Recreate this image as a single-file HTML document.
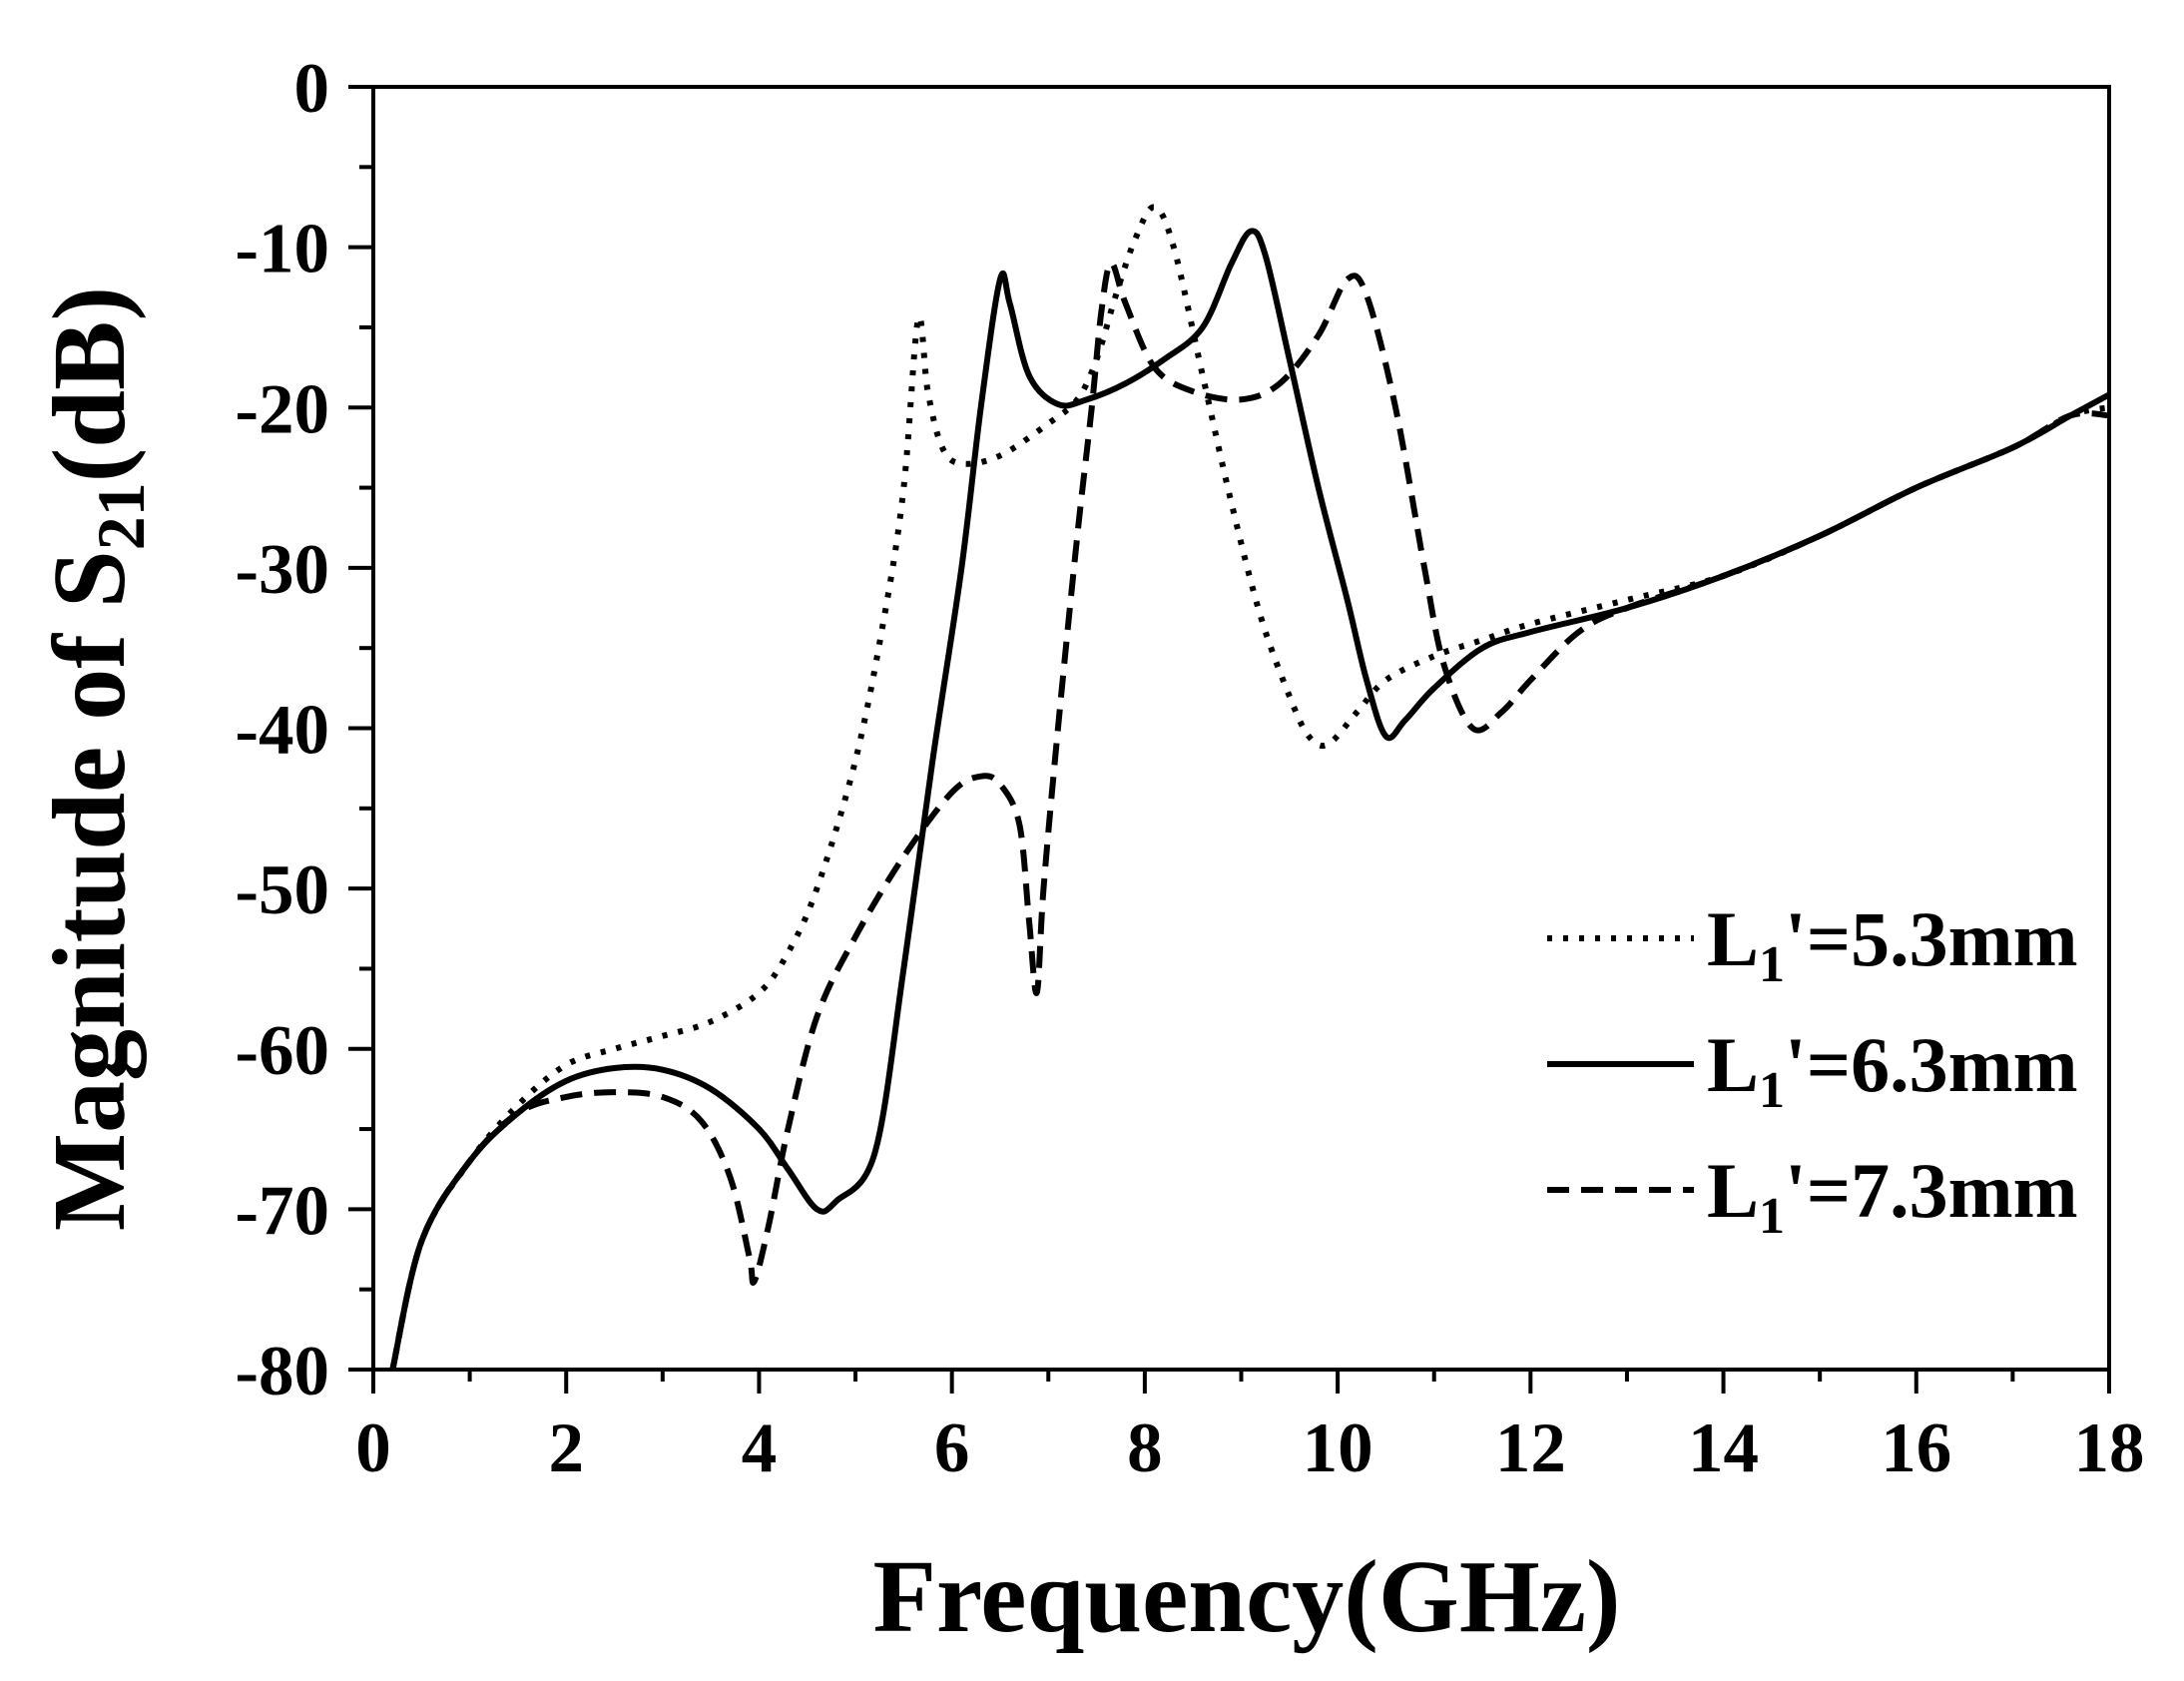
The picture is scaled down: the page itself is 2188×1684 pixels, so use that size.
<!DOCTYPE html>
<html><head><meta charset="utf-8"><style>
html,body{margin:0;padding:0;background:#fff}
svg{display:block}
text{font-family:"Liberation Serif",serif;font-weight:bold;fill:#000}
</style></head><body>
<svg id="s" width="2188" height="1684" viewBox="0 0 2188 1684" xmlns="http://www.w3.org/2000/svg">
<rect x="374" y="87" width="1739" height="1285" fill="none" stroke="#000" stroke-width="4"/>
<g id="ticks" stroke="#000" stroke-width="4"></g>
<g id="labels" font-size="71"></g>
<g id="curves" fill="none" stroke="#000" stroke-width="6" stroke-linejoin="round"></g>
<text x="1249" y="1634" font-size="104" text-anchor="middle">Frequency(GHz)</text>
<text transform="translate(124,760) rotate(-90)" font-size="104" text-anchor="middle">Magnitude of S<tspan font-size="68" dy="20">21</tspan><tspan dy="-20">(dB)</tspan></text>
<g stroke="#000" stroke-width="6">
<line x1="1550" y1="940" x2="1697" y2="940" stroke-dasharray="5 11"/>
<line x1="1550" y1="1066" x2="1697" y2="1066"/>
<line x1="1550" y1="1192" x2="1697" y2="1192" stroke-dasharray="22 12"/>
</g>
<g font-size="78">
<text x="1710" y="967">L<tspan font-size="52" dy="16">1</tspan><tspan dy="-16">'=5.3mm</tspan></text>
<text x="1710" y="1093">L<tspan font-size="52" dy="16">1</tspan><tspan dy="-16">'=6.3mm</tspan></text>
<text x="1710" y="1219">L<tspan font-size="52" dy="16">1</tspan><tspan dy="-16">'=7.3mm</tspan></text>
</g>
</svg>
<script>
var NS="http://www.w3.org/2000/svg";
function X(f){return 374+f*1739/18}
function Y(d){return 87-d*1285/80}
function el(t,a,p){var e=document.createElementNS(NS,t);for(var k in a)e.setAttribute(k,a[k]);p.appendChild(e);return e}
var tk=document.getElementById('ticks'),lb=document.getElementById('labels');
for(var f=0;f<=18;f++){var x=X(f),maj=f%2==0;el('line',{x1:x,y1:1372,x2:x,y2:1372+(maj?24:12)},tk);
 if(maj){var t=el('text',{x:x,y:1474,'text-anchor':'middle'},lb);t.textContent=f;}}
for(var d=0;d>=-80;d-=5){var y=Y(d),maj=d%10==0;el('line',{x1:374,y1:y,x2:374-(maj?25:14),y2:y},tk);
 if(maj){var t=el('text',{x:330,y:y+25,'text-anchor':'end'},lb);t.textContent=d;}}
function path(pts){var P=pts.map(function(p){return [X(p[0]),Y(p[1])]});var s="M"+P[0][0]+","+P[0][1];
 for(var i=0;i<P.length-1;i++){var p0=P[i-1]||P[i],p1=P[i],p2=P[i+1],p3=P[i+2]||p2;
  s+=" C"+(p1[0]+(p2[0]-p0[0])/6)+","+(p1[1]+(p2[1]-p0[1])/6)+" "+(p2[0]-(p3[0]-p1[0])/6)+","+(p2[1]-(p3[1]-p1[1])/6)+" "+p2[0]+","+p2[1];}
 return s;}
var tail=[[15,-28],[16,-25],[17,-22.5],[17.6,-20.5]];
var solid=[[0.2,-80],[0.5,-72],[1,-67],[1.5,-64],[2,-62],[2.5,-61.2],[3,-61.3],[3.5,-62.5],[4,-65],[4.3,-67.5],[4.6,-70],[4.8,-69.5],[5.2,-66.5],[5.5,-55],[5.8,-42],[6.1,-30],[6.3,-20],[6.5,-12],[6.6,-13.5],[6.8,-18],[7.1,-19.8],[7.4,-19.5],[7.8,-18.5],[8.2,-17],[8.6,-15],[8.9,-11],[9.1,-9],[9.25,-10.5],[9.5,-17],[9.8,-25],[10.1,-32],[10.3,-37],[10.5,-40.5],[10.7,-39.5],[11,-37.5],[11.5,-35],[12,-34],[13,-32.5],[14,-30.5]].concat(tail,[[18,-19.2]]);
var dot=[[0.2,-80],[0.5,-72],[1,-67],[1.5,-63.5],[2,-61],[2.5,-60],[3,-59.2],[3.5,-58.3],[4,-56.5],[4.3,-54],[4.6,-50],[5,-42],[5.3,-33],[5.5,-25],[5.65,-14.5],[5.75,-19],[5.9,-22.5],[6.1,-23.5],[6.5,-23],[7,-21],[7.3,-19.5],[7.5,-17],[7.7,-13],[7.9,-9.5],[8.1,-7.5],[8.3,-10],[8.6,-18],[8.9,-26],[9.2,-33],[9.5,-38],[9.7,-40.5],[9.9,-41],[10.2,-39],[10.5,-37],[11,-35.5],[11.5,-34.5],[12,-33.5],[13,-32],[14,-30.5]].concat(tail,[[18,-20]]);
var dash=[[0.2,-80],[0.5,-72],[1,-67],[1.5,-64],[2,-63],[2.5,-62.7],[3,-63],[3.4,-64.5],[3.7,-68],[3.9,-73],[3.95,-74.5],[4.1,-71],[4.3,-65],[4.6,-58],[5,-53],[5.5,-48],[6,-44],[6.3,-43],[6.5,-43.5],[6.7,-46],[6.8,-52],[6.88,-56.5],[6.95,-50],[7.1,-40],[7.3,-28],[7.45,-20],[7.55,-14],[7.65,-11],[7.8,-13.5],[8.1,-17.5],[8.5,-19],[9,-19.5],[9.4,-18.5],[9.8,-15.5],[10.1,-12],[10.3,-13],[10.6,-20],[10.9,-30],[11.1,-36],[11.4,-40],[11.7,-39],[12,-37],[12.5,-34],[13,-32.5],[14,-30.5]].concat(tail,[[18,-20.5]]);
var cg=document.getElementById('curves');
el('path',{d:path(dot),'stroke-dasharray':'5 11'},cg);
el('path',{d:path(solid)},cg);
el('path',{d:path(dash),'stroke-dasharray':'22 12'},cg);
</script>
</body></html>
